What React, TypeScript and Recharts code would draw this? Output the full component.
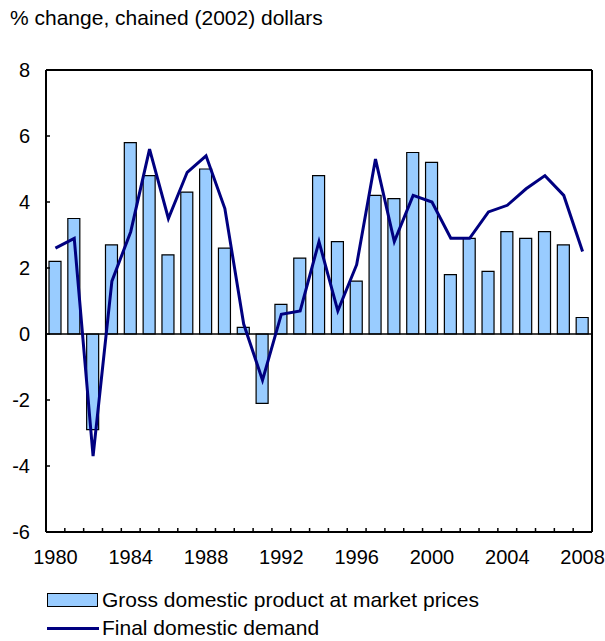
import {
  Bar,
  CartesianGrid,
  ComposedChart,
  Line,
  ReferenceLine,
  XAxis,
  YAxis,
} from "recharts";

const years = [
  "1980", "1981", "1982", "1983", "1984", "1985", "1986", "1987", "1988", "1989",
  "1990", "1991", "1992", "1993", "1994", "1995", "1996", "1997", "1998", "1999",
  "2000", "2001", "2002", "2003", "2004", "2005", "2006", "2007", "2008",
];

const gdp = [
  2.2, 3.5, -2.9, 2.7, 5.8, 4.8, 2.4, 4.3, 5.0, 2.6,
  0.2, -2.1, 0.9, 2.3, 4.8, 2.8, 1.6, 4.2, 4.1, 5.5,
  5.2, 1.8, 2.9, 1.9, 3.1, 2.9, 3.1, 2.7, 0.5,
];

const finalDemand = [
  2.6, 2.9, -3.7, 1.6, 3.1, 5.6, 3.5, 4.9, 5.4, 3.8,
  0.3, -1.4, 0.6, 0.7, 2.8, 0.7, 2.1, 5.3, 2.8, 4.2,
  4.0, 2.9, 2.9, 3.7, 3.9, 4.4, 4.8, 4.2, 2.5,
];

const yTicks = [-6, -4, -2, 0, 2, 4, 6, 8];

const labelEvery = 4;

const data = years.map((year, i) => ({
  year,
  gdp: gdp[i],
  fdd: finalDemand[i],
}));

const W = 605;
const H = 641;
const MARGIN = { top: 70, right: 13, left: 6, bottom: 69 };
const Y_AXIS_W = 40;
const X_AXIS_H = 40;
const PLOT_LEFT = MARGIN.left + Y_AXIS_W;
const PLOT_BOTTOM = H - MARGIN.bottom - X_AXIS_H;
const PLOT_W = W - PLOT_LEFT - MARGIN.right;
const BAND = PLOT_W / years.length;

const FONT = '"Liberation Sans", Arial, sans-serif';
const BAR_FILL = "#99ccff";
const LINE_COLOR = "#000080";

const XTick = (props: any) => {
  const { x, payload } = props;
  const year = Number(payload.value);
  const showLabel = (year - Number(years[0])) % labelEvery === 0;
  return (
    <g>
      <line
        x1={x - BAND / 2}
        x2={x - BAND / 2}
        y1={PLOT_BOTTOM}
        y2={PLOT_BOTTOM - 4}
        stroke="#000"
        strokeWidth={1.5}
      />
      {showLabel && (
        <text
          x={x}
          y={PLOT_BOTTOM + 32}
          textAnchor="middle"
          fontSize={20}
          fontFamily={FONT}
          fill="#000"
        >
          {payload.value}
        </text>
      )}
    </g>
  );
};

const YTick = (props: any) => {
  const { y, payload } = props;
  return (
    <g>
      <line
        x1={PLOT_LEFT}
        x2={PLOT_LEFT + 4}
        y1={y}
        y2={y}
        stroke="#000"
        strokeWidth={1.5}
      />
      <text
        x={30}
        y={y}
        textAnchor="end"
        dominantBaseline="central"
        fontSize={20}
        fontFamily={FONT}
        fill="#000"
      >
        {payload.value}
      </text>
    </g>
  );
};

export default function App() {
  return (
    <div
      style={{
        position: "absolute",
        left: 0,
        top: 0,
        width: W,
        height: H,
        background: "#fff",
        fontFamily: FONT,
      }}
    >
      <div
        style={{
          position: "absolute",
          left: 10,
          top: 8,
          fontSize: 21,
          lineHeight: "20px",
          color: "#000",
          whiteSpace: "nowrap",
        }}
      >
        % change, chained (2002) dollars
      </div>

      <ComposedChart width={W} height={H} data={data} margin={MARGIN}>
        {/* frame around the plot area */}
        <CartesianGrid
          stroke="#000"
          strokeWidth={2}
          fill="none"
          horizontalCoordinatesGenerator={({ offset }: any) => [
            offset.top,
            offset.top + offset.height,
          ]}
          verticalCoordinatesGenerator={({ offset }: any) => [
            offset.left,
            offset.left + offset.width,
          ]}
        />
        <XAxis
          dataKey="year"
          height={X_AXIS_H}
          axisLine={false}
          tickLine={false}
          interval={0}
          tick={<XTick />}
        />
        <YAxis
          width={Y_AXIS_W}
          domain={[-6, 8]}
          ticks={yTicks}
          axisLine={false}
          tickLine={false}
          tick={<YTick />}
        />
        <Bar
          dataKey="gdp"
          name="Gross domestic product at market prices"
          fill={BAR_FILL}
          stroke="#000"
          strokeWidth={1.2}
          barSize={12}
          isAnimationActive={false}
        />
        <ReferenceLine y={0} stroke="#000" strokeWidth={1.5} />
        <Line
          dataKey="fdd"
          name="Final domestic demand"
          type="linear"
          stroke={LINE_COLOR}
          strokeWidth={3}
          dot={false}
          isAnimationActive={false}
        />
      </ComposedChart>

      <div
        style={{
          position: "absolute",
          left: 47,
          top: 586,
          fontSize: 21,
          lineHeight: "28px",
          color: "#000",
          whiteSpace: "nowrap",
        }}
      >
        <div style={{ display: "flex", alignItems: "center", height: 28 }}>
          <span
            style={{
              display: "inline-block",
              width: 49,
              height: 12,
              background: BAR_FILL,
              border: "1.5px solid #000",
              marginRight: 4,
            }}
          />
          Gross domestic product at market prices
        </div>
        <div style={{ display: "flex", alignItems: "center", height: 28 }}>
          <span
            style={{
              display: "inline-block",
              width: 52,
              height: 3,
              background: LINE_COLOR,
              marginRight: 3,
            }}
          />
          Final domestic demand
        </div>
      </div>
    </div>
  );
}
